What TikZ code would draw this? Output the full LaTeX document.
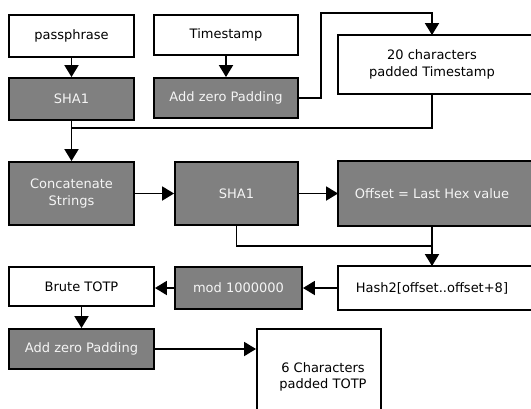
\documentclass[tikz,border=0pt]{standalone}
\usepackage{fontspec}
\setmainfont{DejaVu Sans}
\usepackage{tikz}
\usetikzlibrary{arrows.meta,backgrounds}

\begin{document}
\begin{tikzpicture}[x=1pt,y=-1pt,
  font=\fontsize{13}{16.5}\selectfont,
  box/.style={draw, line width=1.9pt, inner sep=2pt, align=center},
  whitebox/.style={box, fill=white},
  graybox/.style={box, fill=black!50, text=black!4},
  openbox/.style={box, draw=none},
  flow/.style={line width=1.9pt, -{Triangle[length=12pt,width=14pt]}},
  link/.style={line width=1.9pt}]
 \clip (0,0) rectangle (531,408);

 % first row
 \node at (71.5,36)[whitebox, minimum width=125pt, minimum height=42pt] (pass) {passphrase};
 \node at (226,35)[whitebox, minimum width=144pt, minimum height=40pt] (tstamp) {Timestamp};
 \node at (71.5,99)[graybox, minimum width=125pt, minimum height=42pt] (sha1a) {SHA1};
 \node at (226,98)[graybox, minimum width=144pt, minimum height=40pt] (pad1) {Add zero Padding};
 \node at (432,64.5)[openbox, minimum width=186pt, minimum height=57pt] (chars) {20 characters\\padded Timestamp};

 % second row
 \node at (71.5,193.5)[graybox, minimum width=125pt, minimum height=63pt] (concat) {Concatenate\\Strings};
 \node at (236.5,193.5)[graybox, minimum width=123pt, minimum height=63pt] (sha1b) {SHA1};
 \node at (432,193.5)[openbox, minimum width=186pt, minimum height=63pt, text=black!4] (offset) {Offset = Last Hex value};

 % third row
 \node at (81.5,286.5)[whitebox, minimum width=145pt, minimum height=39pt] (brute) {Brute TOTP};
 \node at (238.5,288)[graybox, minimum width=127pt, minimum height=42pt] (mod) {mod 1000000};
 \node at (432,288)[openbox, minimum width=186pt, minimum height=42pt] (hash2) {Hash2[offset..offset+8]};
 \node at (81.5,349)[graybox, minimum width=145pt, minimum height=40pt] (pad2) {Add zero Padding};
 \node at (319,377)[whitebox, minimum width=124pt, minimum height=96pt] (six) {\hspace*{8pt}6 Characters\\\hspace*{8pt}padded TOTP};

 % boxes cut by the right edge
 \begin{pgfonlayer}{background}
  \filldraw[fill=white, line width=1.9pt] (chars.north west) rectangle ([xshift=40pt]chars.south east);
  \filldraw[fill=black!50, line width=1.9pt] (offset.north west) rectangle ([xshift=40pt]offset.south east);
  \filldraw[fill=white, line width=1.9pt] (hash2.north west) rectangle ([xshift=40pt]hash2.south east);
 \end{pgfonlayer}

 \draw[flow] (pass.south) -- (sha1a.north);
 \draw[flow] (tstamp.south) -- (pad1.north);
 \draw[flow] (pad1.east) -- ++(22,0) |- ([yshift=22pt]chars.north) -- (chars.north);
 \draw[flow] (sha1a.south) -- (concat.north);
 \draw[link] (chars.south) |- ([yshift=-7pt]sha1a.south);

 \draw[flow] (concat.east) -- (sha1b.west);
 \draw[flow] (sha1b.east) -- (offset.west);
 \draw[link] (sha1b.south) |- ([yshift=20pt]hash2.north);
 \draw[flow] (offset.south) -- (hash2.north);

 \draw[flow] (hash2.west) -- (mod.east);
 \draw[flow] (mod.west) -- (mod.west -| brute.east);
 \draw[flow] (brute.south) -- (pad2.north);
 \draw[flow] (pad2.east) -- (pad2.east -| six.west);

\end{tikzpicture}
\end{document}
